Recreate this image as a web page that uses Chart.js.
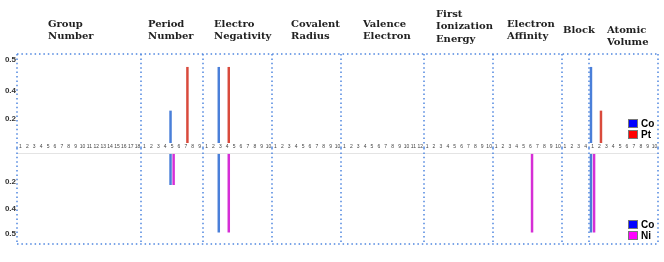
<!DOCTYPE html>
<html>
<head>
<meta charset="utf-8">
<script src="https://cdn.jsdelivr.net/npm/chart.js@4.4.0/dist/chart.umd.min.js"></script>
<style>
  html, body { margin: 0; padding: 0; background: #fff; }
  #wrap { position: relative; width: 664px; height: 262px; }
  #upper { position: absolute; left: 0; top: 0; }
  #lower { position: absolute; left: 0; top: 148px; }
</style>
</head>
<body>
<div id="wrap">
  <canvas id="upper" width="664" height="150"></canvas>
  <canvas id="lower" width="664" height="114"></canvas>
</div>
<script>
// property groups and how many categories each one has
const groupNames = ['Group Number', 'Period Number', 'Electro Negativity', 'Covalent Radius',
  'Valence Electron', 'First Ionization Energy', 'Electron Affinity', 'Block', 'Atomic Volume'];
const groupSizes = [18, 9, 10, 10, 12, 10, 10, 4, 10];

// bars: [group, category, value]
const coUpper = [['Period Number', 5, 0.20], ['Electro Negativity', 3, 0.47], ['Atomic Volume', 1, 0.47]];
const ptUpper = [['Period Number', 7, 0.47], ['Electro Negativity', 4, 0.47], ['Atomic Volume', 2, 0.20]];
const coLower = [['Period Number', 5, 0.19], ['Electro Negativity', 3, 0.48], ['Atomic Volume', 1, 0.48]];
const niLower = [['Period Number', 5, 0.19], ['Electro Negativity', 4, 0.48], ['Electron Affinity', 6, 0.48], ['Atomic Volume', 1, 0.48]];

// the y axis labels are not evenly spaced in the picture
const yTickLabels = ['0.2', '0.4', '0.5'];
const upperTickValues = [0.148, 0.321, 0.513];
const lowerTickValues = [0.17, 0.333, 0.49];

// heading placement
const headingX = [48, 148, 214, 291, 363, 436, 507, 563, 607];
const headingY = [24, 24, 24, 24, 24, 14, 24, 30, 30];
const headingLines = [['Group', 'Number'], ['Period', 'Number'], ['Electro', 'Negativity'], ['Covalent', 'Radius'],
  ['Valence', 'Electron'], ['First', 'Ionization', 'Energy'], ['Electron', 'Affinity'], ['Block'], ['Atomic', 'Volume']];

var labels = [];
var groupStart = {};
groupNames.forEach((g, i) => {
  groupStart[g] = labels.length;
  for (let k = 1; k <= groupSizes[i]; k++) labels.push(String(k));
});

function toSeries(list) {
  var arr = labels.map(() => null);
  list.forEach(b => { arr[groupStart[b[0]] + b[1] - 1] = b[2]; });
  return arr;
}

function boundaries(chart) {
  const x = chart.scales.x, a = chart.chartArea;
  var xs = [a.left], idx = 0;
  for (let g = 0; g < groupSizes.length - 1; g++) {
    idx += groupSizes[g];
    xs.push((x.getPixelForValue(idx - 1) + x.getPixelForValue(idx)) / 2);
  }
  xs.push(a.right);
  return xs;
}

const dotted = {
  id: 'dotted',
  beforeDatasetsDraw(chart, args, opts) {
    const { ctx, chartArea: a } = chart;
    ctx.save();
    ctx.strokeStyle = '#4f86e0';
    ctx.lineWidth = 1.5;
    ctx.setLineDash([1.5, 2.9]);
    const y0 = opts.upper ? a.top : 0;
    const y1 = opts.upper ? chart.height : a.bottom;
    boundaries(chart).forEach(px => {
      ctx.beginPath();
      ctx.moveTo(Math.round(px), y0);
      ctx.lineTo(Math.round(px), y1);
      ctx.stroke();
    });
    const hy = opts.upper ? a.top : a.bottom;
    ctx.beginPath();
    ctx.moveTo(a.left, hy);
    ctx.lineTo(a.right, hy);
    ctx.stroke();
    ctx.restore();
  }
};

const boxLegend = {
  id: 'boxLegend',
  afterDraw(chart, args, opts) {
    const { ctx, chartArea: a } = chart;
    ctx.save();
    ctx.font = 'bold 10px Arial, "Liberation Sans"';
    ctx.textBaseline = 'middle';
    chart.data.datasets.forEach((ds, i) => {
      const y = a.bottom - 24 + i * 11;
      ctx.fillStyle = opts.colors[i];
      ctx.fillRect(628, y, 10, 9);
      ctx.strokeStyle = '#777';
      ctx.lineWidth = 1;
      ctx.strokeRect(628.5, y + 0.5, 9, 8);
      ctx.fillStyle = '#000';
      ctx.fillText(ds.label, 641, y + 5);
    });
    ctx.restore();
  }
};

const headings = {
  id: 'headings',
  afterDraw(chart) {
    const ctx = chart.ctx;
    ctx.save();
    ctx.font = 'bold 10px "DejaVu Serif"';
    ctx.fillStyle = '#222';
    ctx.textBaseline = 'middle';
    headingLines.forEach((lines, i) => {
      lines.forEach((t, j) => ctx.fillText(t, headingX[i], headingY[i] + j * 12.7));
    });
    ctx.restore();
  }
};

function yScale(tickValues, reverse) {
  return {
    min: 0, max: 0.55, reverse: reverse,
    grid: { display: false, drawTicks: false }, border: { display: false },
    afterBuildTicks(s) { s.ticks = tickValues.map(v => ({ value: v })); },
    ticks: {
      autoSkip: false, padding: 1, color: '#333',
      font: { size: 8, weight: 'bold', family: 'Arial' },
      callback: (v, i) => yTickLabels[i]
    },
    afterFit(s) { s.width = 17; }
  };
}

const barOpts = { categoryPercentage: 0.9, barPercentage: 0.8, borderWidth: 0 };

new Chart(document.getElementById('upper'), {
  type: 'bar',
  data: {
    labels: labels,
    datasets: [
      Object.assign({ label: 'Co', data: toSeries(coUpper), backgroundColor: '#4a7fd9' }, barOpts),
      Object.assign({ label: 'Pt', data: toSeries(ptUpper), backgroundColor: '#d94a3c' }, barOpts)
    ]
  },
  options: {
    responsive: false, animation: false, devicePixelRatio: 1,
    layout: { padding: { top: 54, right: 6, left: 0, bottom: 0 } },
    plugins: { legend: { display: false }, tooltip: { enabled: false },
      dotted: { upper: true }, boxLegend: { colors: ['#0000ff', '#ff0000'] } },
    scales: {
      x: {
        grid: { display: false, drawTicks: false }, border: { display: false },
        ticks: { autoSkip: false, maxRotation: 0, padding: 1, color: '#444', font: { size: 5, family: 'Arial' } },
        afterFit(s) { s.height = 7; }
      },
      y: yScale(upperTickValues, false)
    }
  },
  plugins: [dotted, boxLegend, headings]
});

new Chart(document.getElementById('lower'), {
  type: 'bar',
  data: {
    labels: labels,
    datasets: [
      Object.assign({ label: 'Co', data: toSeries(coLower), backgroundColor: '#4a7fd9' }, barOpts),
      Object.assign({ label: 'Ni', data: toSeries(niLower), backgroundColor: '#d62ed6' }, barOpts)
    ]
  },
  options: {
    responsive: false, animation: false, devicePixelRatio: 1,
    layout: { padding: { top: 0, right: 6, left: 0, bottom: 18 } },
    plugins: { legend: { display: false }, tooltip: { enabled: false },
      dotted: { upper: false }, boxLegend: { colors: ['#0000ff', '#ff00ff'] } },
    scales: {
      x: {
        position: 'top',
        grid: { display: false, drawTicks: false }, border: { display: true, color: '#e4e4e4' },
        ticks: { display: false },
        afterFit(s) { s.height = 2; }
      },
      y: yScale(lowerTickValues, true)
    }
  },
  plugins: [dotted, boxLegend]
});
</script>
</body>
</html>
